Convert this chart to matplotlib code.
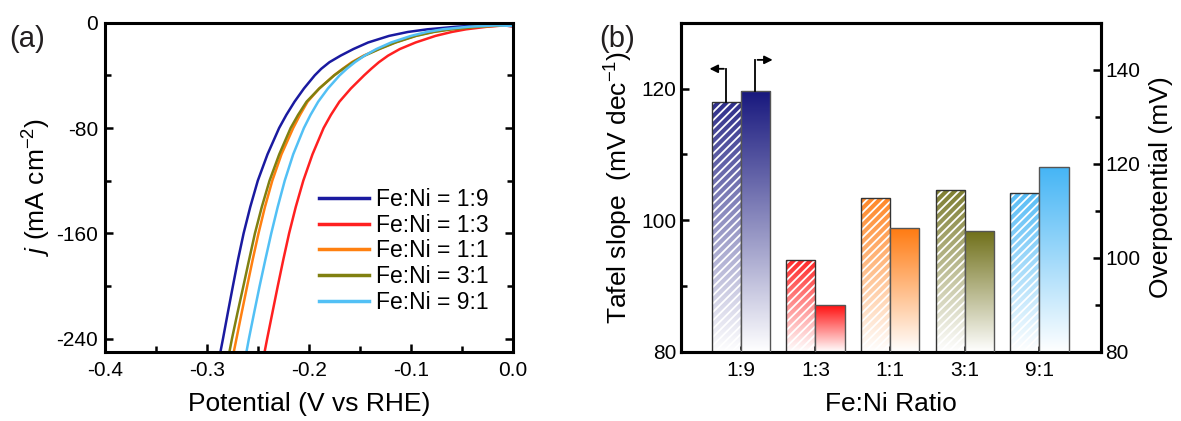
import numpy as np
import matplotlib
matplotlib.use("Agg")
import matplotlib.pyplot as plt
from matplotlib.colors import to_rgb

plt.rcParams["font.family"] = ["Liberation Sans", "DejaVu Sans"]
plt.rcParams["mathtext.fontset"] = "custom"
plt.rcParams["mathtext.rm"] = "Liberation Sans"
plt.rcParams["mathtext.it"] = "Liberation Sans:italic"
plt.rcParams["axes.unicode_minus"] = False
plt.rcParams["hatch.linewidth"] = 1.3

# ---- data: (a) LSV curves, current density j (mA cm-2) vs potential (V vs RHE)
j_pts = [-250, -240, -220, -200, -180, -160, -140, -120, -100, -80, -70, -60, -50,
         -40, -35, -30, -25, -20, -15, -10, -7, -5, -3, -2]
v_19 = [-0.2868, -0.2843, -0.2795, -0.2746, -0.2696, -0.2641, -0.2576, -0.2502, -0.2407,
        -0.2293, -0.2222, -0.2142, -0.2050, -0.1944, -0.1880, -0.1800, -0.1690, -0.1565,
        -0.1420, -0.1215, -0.1030, -0.0840, -0.0550, -0.0320]
v_13 = [-0.2435, -0.2410, -0.2358, -0.2306, -0.2252, -0.2195, -0.2130, -0.2056, -0.1966,
        -0.1857, -0.1785, -0.1702, -0.1590, -0.1460, -0.1390, -0.1315, -0.1225, -0.1110,
        -0.0955, -0.0760, -0.0600, -0.0460, -0.0250, -0.0080]
v_11 = [-0.2737, -0.2711, -0.2659, -0.2606, -0.2552, -0.2495, -0.2432, -0.2360, -0.2270,
        -0.2155, -0.2088, -0.2014, -0.1900, -0.1755, -0.1670, -0.1580, -0.1465, -0.1320,
        -0.1160, -0.0960, -0.0790, -0.0630, -0.0360, -0.0120]
v_31 = [-0.2780, -0.2755, -0.2700, -0.2643, -0.2587, -0.2530, -0.2463, -0.2387, -0.2292,
        -0.2180, -0.2107, -0.2024, -0.1900, -0.1753, -0.1665, -0.1570, -0.1455, -0.1310,
        -0.1150, -0.0950, -0.0775, -0.0600, -0.0330, -0.0090]
v_91 = [-0.2613, -0.2589, -0.2537, -0.2484, -0.2428, -0.2370, -0.2307, -0.2238, -0.2155,
        -0.2050, -0.1985, -0.1910, -0.1815, -0.1700, -0.1630, -0.1550, -0.1455, -0.1340,
        -0.1195, -0.1000, -0.0845, -0.0690, -0.0430, -0.0160]
j_end = [-1.0, -3.0, -2.2, -1.5, -2.5]  # current at 0.0 V

series_labels = ["Fe:Ni = 1:9", "Fe:Ni = 1:3", "Fe:Ni = 1:1", "Fe:Ni = 3:1", "Fe:Ni = 9:1"]
line_colors = ["#1a1aa0", "#ff2020", "#ff8010", "#808010", "#52c0f5"]

# ---- data: (b) Tafel slope and overpotential
ratios = ["1:9", "1:3", "1:1", "3:1", "9:1"]
tafel = [118.0, 93.9, 103.4, 104.6, 104.2]
overpot = [135.4, 89.9, 106.4, 105.7, 119.3]
bar_colors = ["#18187e", "#ff1010", "#ff7a10", "#70701a", "#45b5f5"]

fig = plt.figure(figsize=(11.81, 4.21), dpi=100)
ax = fig.add_axes([0.0889, 0.1645, 0.3455, 0.7815])
axb = fig.add_axes([0.5766, 0.1645, 0.3554, 0.7815])
ax2 = axb.twinx()

# ---------------- panel (a)
for v, je, lab, c in zip([v_19, v_13, v_11, v_31, v_91], j_end, series_labels, line_colors):
    ax.plot(v + [0.0], j_pts + [je], color=c, lw=1.8, label=lab)

ax.set_xlim(-0.4, 0.0)
ax.set_ylim(-250, 0)
ax.set_xticks([-0.4, -0.3, -0.2, -0.1, 0.0])
ax.set_xticks(np.arange(-0.35, 0, 0.1), minor=True)
ax.set_yticks([0, -80, -160, -240])
ax.set_yticks([-40, -120, -200], minor=True)
ax.set_xlabel("Potential (V vs RHE)", fontsize=19, labelpad=8)
ax.set_ylabel(r"$j$ (mA cm$^{-2}$)", fontsize=19, labelpad=2)
leg = ax.legend(loc="lower right", bbox_to_anchor=(0.94, 0.115), frameon=False, fontsize=16.5,
                handlelength=2.2, handletextpad=0.3, labelspacing=0.12,
                borderpad=0, borderaxespad=0)
for h in leg.get_lines():
    h.set_linewidth(2.5)

# ---------------- panel (b)
x = np.arange(1, len(ratios) + 1)
w = 0.39


def gradient_fill(axis, patch, color, top_alpha=1.0):
    rgb = np.array(to_rgb(color))
    t = np.linspace(0, 1, 256)[:, None]
    img = (1 - t * top_alpha)[:, :, None] * np.ones(3) + (t * top_alpha)[:, :, None] * rgb
    img = np.repeat(img, 2, axis=1)
    x0, y0 = patch.get_x(), patch.get_y()
    im = axis.imshow(img, extent=[x0, x0 + patch.get_width(), y0, y0 + patch.get_height()],
                     origin="lower", aspect="auto", zorder=1, interpolation="bilinear")
    im.set_clip_path(patch)


bars_l = axb.bar(x - w / 2, [t - 80 for t in tafel], w, bottom=80, facecolor="none",
                 edgecolor="#333333", lw=1.0, zorder=3)
for b, c in zip(bars_l, bar_colors):
    gradient_fill(axb, b, c, top_alpha=0.9)
axb.bar(x - w / 2, [t - 80 for t in tafel], w, bottom=80, facecolor="none",
        edgecolor="white", lw=0, hatch="////", zorder=2)

bars_r = ax2.bar(x + w / 2, [o - 80 for o in overpot], w, bottom=80, facecolor="none",
                 edgecolor="#555555", lw=1.0, zorder=3)
for b, c in zip(bars_r, bar_colors):
    gradient_fill(ax2, b, c, top_alpha=1.0)

axb.set_xlim(0.2, 5.82)
axb.set_ylim(80, 130)
ax2.set_ylim(80, 150)
axb.set_xticks(x)
axb.set_xticklabels(ratios)
axb.set_yticks([80, 100, 120])
axb.set_yticks([90, 110], minor=True)
ax2.set_yticks([80, 100, 120, 140])
ax2.set_yticks([90, 110, 130], minor=True)
axb.set_xlabel("Fe:Ni Ratio", fontsize=19, labelpad=8)
axb.set_ylabel(r"Tafel slope  (mV dec$^{-1}$)", fontsize=19, labelpad=4)
ax2.set_ylabel("Overpotential (mV)", fontsize=19, labelpad=6)

# arrows indicating which axis each bar belongs to
xl = x[0] - w / 2
axb.plot([xl, xl], [tafel[0], tafel[0] + 5], color="black", lw=1.3, zorder=4)
axb.annotate("", xy=(xl - 0.26, tafel[0] + 5), xytext=(xl + 0.007, tafel[0] + 5),
             arrowprops=dict(arrowstyle="-|>", color="black", lw=1.3, mutation_scale=12),
             zorder=4)
xr = x[0] + w / 2
ax2.plot([xr, xr], [overpot[0], overpot[0] + 6.7], color="black", lw=1.3, zorder=4)
ax2.annotate("", xy=(xr + 0.27, overpot[0] + 6.7), xytext=(xr - 0.007, overpot[0] + 6.7),
             arrowprops=dict(arrowstyle="-|>", color="black", lw=1.3, mutation_scale=12),
             zorder=4)

# ---------------- styling
for a in (ax, axb, ax2):
    for s in a.spines.values():
        s.set_linewidth(2.2)
    a.tick_params(which="both", direction="in", labelsize=15, width=1.8, colors="black")
    a.tick_params(which="major", length=6)
    a.tick_params(which="minor", length=4)
ax.tick_params(which="both", right=True, top=False)
axb.tick_params(axis="x", which="major", length=4, pad=7)
ax.tick_params(axis="x", pad=7)
ax.tick_params(axis="y", pad=5)

fig.text(0.008, 0.94, "(a)", fontsize=21, color="#231f20", va="top")
fig.text(0.507, 0.94, "(b)", fontsize=21, color="#231f20", va="top")

fig.savefig("out.png", dpi=100)
